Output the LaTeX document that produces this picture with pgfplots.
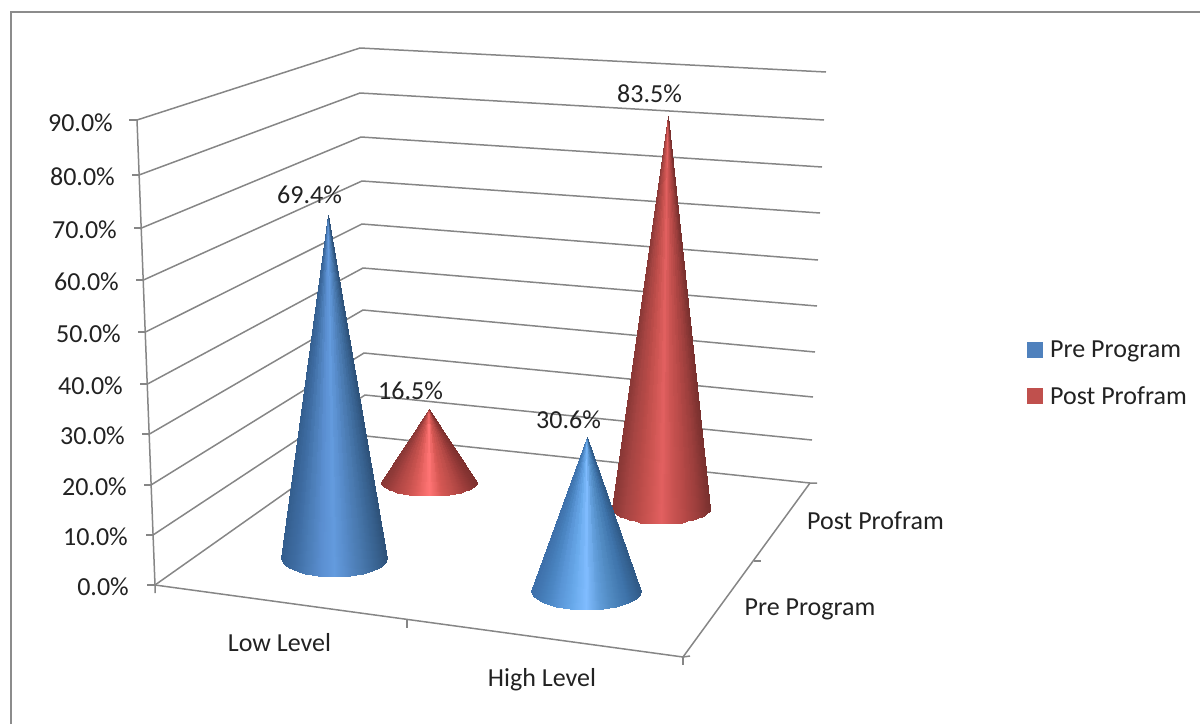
\documentclass[border=0pt]{standalone}
\usepackage{pgfplots}
\pgfplotsset{compat=1.18}
\usepackage{pgfplotstable}
\usepackage{fontspec}
\setmainfont{Carlito}
\definecolor{wallgray}{HTML}{868686}
\definecolor{framegray}{HTML}{8C8C8C}
\definecolor{labelink}{HTML}{222222}
\definecolor{preblue}{HTML}{4F81BD}
\definecolor{postred}{HTML}{C0504D}
\newcommand\chartfont{\fontsize{26}{30}\selectfont\color{labelink}}

% Facets of a cone, three rows per triangle: u is the position across the
% base (-1 to 1), t is 1 at the apex and 0 on the rim.
\pgfplotstableread[row sep=\\]{
u t\\
-1 0\\ -.99 0\\ -.995 1\\
-.99 0\\ -.97 0\\ -.98 1\\
-.97 0\\ -.94 0\\ -.955 1\\
-.94 0\\ -.9 0\\ -.92 1\\
-.9 0\\ -.84 0\\ -.87 1\\
-.84 0\\ -.76 0\\ -.8 1\\
-.76 0\\ -.66 0\\ -.71 1\\
-.66 0\\ -.54 0\\ -.6 1\\
-.54 0\\ -.42 0\\ -.48 1\\
-.42 0\\ -.3 0\\ -.36 1\\
-.3 0\\ -.18 0\\ -.24 1\\
-.18 0\\ -.06 0\\ -.12 1\\
-.06 0\\ .06 0\\ 0 1\\
.06 0\\ .18 0\\ .12 1\\
.18 0\\ .3 0\\ .24 1\\
.3 0\\ .42 0\\ .36 1\\
.42 0\\ .54 0\\ .48 1\\
.54 0\\ .66 0\\ .6 1\\
.66 0\\ .76 0\\ .71 1\\
.76 0\\ .84 0\\ .8 1\\
.84 0\\ .9 0\\ .87 1\\
.9 0\\ .94 0\\ .92 1\\
.94 0\\ .97 0\\ .955 1\\
.97 0\\ .99 0\\ .98 1\\
.99 0\\ 1 0\\ .995 1\\
}\conefacets

\pgfplotsset{
  colormap={blueA}{rgb255=(52,94,142) rgb255=(62,108,162) rgb255=(76,126,184) rgb255=(90,142,208) rgb255=(99,155,222) rgb255=(86,138,200) rgb255=(74,122,176) rgb255=(60,104,152) rgb255=(46,82,122)},
  colormap={blueB}{rgb255=(62,112,170) rgb255=(72,130,190) rgb255=(90,150,215) rgb255=(105,170,235) rgb255=(128,188,255) rgb255=(95,155,215) rgb255=(78,135,190) rgb255=(62,115,170) rgb255=(48,90,135)},
  colormap={redA}{rgb255=(135,55,53) rgb255=(165,68,66) rgb255=(185,75,72) rgb255=(205,85,82) rgb255=(226,96,96) rgb255=(200,82,80) rgb255=(180,72,70) rgb255=(155,62,60) rgb255=(120,48,46)},
  colormap={redB}{rgb255=(135,55,53) rgb255=(170,68,66) rgb255=(195,80,76) rgb255=(225,95,92) rgb255=(255,116,116) rgb255=(215,88,84) rgb255=(190,78,74) rgb255=(160,62,60) rgb255=(125,48,46)},
  wall/.style={forget plot, draw=wallgray, line width=1.5pt, no markers},
}

% cone: base centre x, y; base radii; value; pixels per percent; apex shift;
% colormap; label baseline offset
\newcommand\cone[9]{
  \addplot[forget plot, patch, patch type=triangle, shader=interp,
    colormap name=#8, point meta=\thisrow{u}]
    table[x expr={#1+#3*\thisrow{u}*(1-\thisrow{t})+#7*\thisrow{t}},
          y expr={#2+#4*sqrt(1-(\thisrow{u})*(\thisrow{u}))*(1-\thisrow{t})-#5*#6*\thisrow{t}}]
    {\conefacets};
  \node[anchor=base, inner sep=0pt, font=\chartfont]
    at (axis cs:{#1+#7-18.5},{#2-#5*#6+#9}) {#5\%};
}
% text placed by its baseline
\newcommand\basetext[3]{\node[anchor=base, inner sep=0pt, font=\chartfont] at (axis cs:#1,#2) {#3};}
\newcommand\ticktext[3]{\node[anchor=east, inner sep=0pt, font=\chartfont] at (axis cs:#1,#2) {#3};}

\begin{document}
\begin{tikzpicture}[x=1pt,y=1pt]
\path[use as bounding box] (0,0) rectangle (1200,724);
\begin{axis}[
  at={(0,0)}, anchor=south west,
  scale only axis, width=1200pt, height=724pt,
  xmin=0, xmax=1200, ymin=0, ymax=724, y dir=reverse,
  hide axis, clip=false,
  point meta min=-1, point meta max=1,
  legend style={at={(axis cs:1027,339)}, anchor=north west, draw=none, fill=none,
    font=\chartfont, row sep=23pt, inner sep=0pt,
    /tikz/every even column/.append style={column sep=0pt}},
  legend cell align=left,
  legend image code/.code={\fill[draw=none,#1] (0pt,-7.5pt) rectangle (16pt,8pt);},
]
% frame of the chart area
\addplot[forget plot, draw=framegray, line width=2.2pt] coordinates {(11,724) (11,12) (1200,12)};

% value gridlines: left wall, corner, back wall
\addplot[wall] coordinates {(137,120) (360,48) (826,72)};
\addplot[wall] coordinates {(139,175) (360,93) (824,120)};
\addplot[wall] coordinates {(141.5,228) (361,137) (822,167)};
\addplot[wall] coordinates {(143.5,280) (362,181) (820,213)};
\addplot[wall] coordinates {(145.5,332) (362,224) (818,260)};
\addplot[wall] coordinates {(147.5,384) (363,268) (817,306)};
\addplot[wall] coordinates {(149.5,434) (363,310) (815,352)};
\addplot[wall] coordinates {(151,485) (364,353) (813,397)};
\addplot[wall] coordinates {(153,535) (365,395) (812,440)};
\addplot[wall] coordinates {(155,585) (366,436) (810,483)};

% vertical axis with its ticks
\addplot[wall] coordinates {(137,120) (155,585) (155,593)};
\addplot[wall] coordinates {(129,120) (137,120)};
\addplot[wall] coordinates {(132,175) (139,175)};
\addplot[wall] coordinates {(134,228) (141.5,228)};
\addplot[wall] coordinates {(136,280) (143.5,280)};
\addplot[wall] coordinates {(138,332) (145.5,332)};
\addplot[wall] coordinates {(140,384) (147.5,384)};
\addplot[wall] coordinates {(142,434) (149.5,434)};
\addplot[wall] coordinates {(144,485) (151,485)};
\addplot[wall] coordinates {(146,535) (153,535)};
\addplot[wall] coordinates {(147,585) (155,585)};

% floor edges with their ticks
\addplot[wall] coordinates {(155,585) (683,657) (810,483) (817,483)};
\addplot[wall] coordinates {(407,620) (407,628)};
\addplot[wall] coordinates {(683,657) (683,665)};
\addplot[wall] coordinates {(683,657) (690,656)};
\addplot[wall] coordinates {(754,561) (761,561)};

% cones, from the back row forward
\cone{429}{482}{48}{14}{16.5}{4.42}{0}{redB}{-10}
\cone{661}{508}{49}{16}{83.5}{4.69}{7}{redA}{-14}
\cone{334}{558}{53}{19}{69.4}{4.94}{-6}{blueA}{-12}
\cone{586}{591}{55}{19}{30.6}{5.03}{1}{blueB}{-9}

% value axis labels
\ticktext{113}{123}{90.0\%}
\ticktext{115}{177}{80.0\%}
\ticktext{117}{230}{70.0\%}
\ticktext{119}{282}{60.0\%}
\ticktext{121}{334}{50.0\%}
\ticktext{123}{386}{40.0\%}
\ticktext{125}{436}{30.0\%}
\ticktext{127}{487}{20.0\%}
\ticktext{128}{537}{10.0\%}
\ticktext{129}{587}{0.0\%}

% category labels
\basetext{279.5}{651}{Low Level}
\basetext{542}{686}{High Level}
\basetext{810}{615}{Pre Program}
\basetext{875.5}{529}{Post Profram}

\addlegendimage{fill=preblue}
\addlegendentry{\hspace{5pt}Pre Program}
\addlegendimage{fill=postred}
\addlegendentry{\hspace{5pt}Post Profram}
\end{axis}
\end{tikzpicture}
\end{document}
